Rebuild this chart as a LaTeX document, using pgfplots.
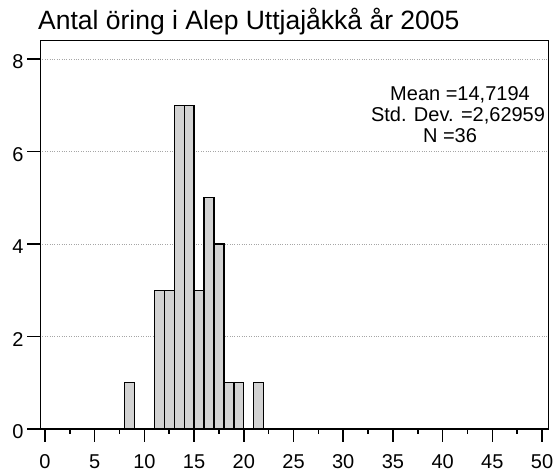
\documentclass[border=0pt]{standalone}
\usepackage{pgfplots}
\pgfplotsset{compat=1.18}
\usepackage{fontspec}
\setmainfont{Liberation Sans}
\definecolor{barfill}{RGB}{210,210,210}
\begin{document}
\begin{tikzpicture}
\begin{axis}[
  scale only axis,
  width=508pt, height=389pt,
  at={(0pt,0pt)}, anchor=south west,
  xmin=-0.5, xmax=50.6,
  ymin=0, ymax=8.41,
  xtick={0,5,...,50},
  minor xtick={2.5,7.5,...,47.5},
  ytick={0,2,4,6,8},
  tick align=outside,
  major tick length=13pt,
  minor tick length=5pt,
  xtick pos=bottom, ytick pos=left,
  tick style={black, line width=1.6pt},
  axis line style={black, line width=0.9pt},
  ymajorgrids,
  grid style={gray!70, dotted, line width=0.6pt},
  ticklabel style={font=\fontsize{20}{20}\selectfont},
  xticklabel style={yshift=-9pt},
  yticklabel style={yshift=-3pt},
  /pgf/number format/assume math mode=true,
  clip=false,
]
\addplot[ybar, bar width=1, fill=barfill, draw=black, line width=1.3pt] coordinates {
 (8.5,1) (11.5,3) (12.5,3) (13.5,7) (14.5,7) (15.5,3) (16.5,5) (17.5,4) (18.5,1) (19.5,1) (21.5,1)
};
\draw[black, line width=1.6pt] (axis cs:-0.5,0) -- (axis cs:50.6,0);
\end{axis}
\node[anchor=base west, font=\fontsize{26.5}{26.5}\selectfont, inner sep=0pt] at (-2pt,399.7pt) {Antal öring i Alep Uttjajåkkå år 2005};
\node[anchor=base, font=\fontsize{20}{20}\selectfont, inner sep=0pt] at (420pt,328.3pt) {Mean =14,7194};
\node[anchor=base, font=\fontsize{20}{20}\selectfont, inner sep=0pt] at (418pt,307.3pt) {Std. Dev. =2,62959};
\node[anchor=base, font=\fontsize{20}{20}\selectfont, inner sep=0pt] at (410pt,286.3pt) {N =36};
\pgfresetboundingbox
\path[use as bounding box] (-40pt,-47pt) rectangle (517pt,429pt);
\end{tikzpicture}
\end{document}
